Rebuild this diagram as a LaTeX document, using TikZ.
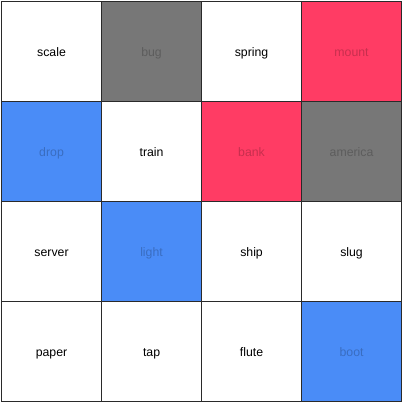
\documentclass[tikz,border=0pt]{standalone}
\usepackage{fontspec}
\setmainfont{Liberation Sans}
\definecolor{cblue}{HTML}{4A8CF7}
\definecolor{cred}{HTML}{FF3C64}
\definecolor{cgray}{HTML}{777777}
\definecolor{cline}{HTML}{2A2A2A}
\begin{document}
\begin{tikzpicture}[x=1pt,y=-1pt,
  cell/.style={draw=cline,line width=1.1pt,minimum size=100pt,inner sep=0pt,text height=10.5pt,text depth=1.5pt,font=\fontsize{12.3}{14}\selectfont,anchor=north west},
  plain/.style={cell,fill=white,text=black},
  blue/.style={cell,fill=cblue,text=black,text opacity=0.22},
  red/.style={cell,fill=cred,text=black,text opacity=0.22},
  grey/.style={cell,fill=cgray,text=black,text opacity=0.22}]
\useasboundingbox (0,0) rectangle (402,402);
\node[plain] (scale) at (1,1) {scale};
\node[grey] (bug) at (101,1) {bug};
\node[plain] (spring) at (201,1) {spring};
\node[red] (mount) at (301,1) {mount};
\node[blue] (drop) at (1,101) {drop};
\node[plain] (train) at (101,101) {train};
\node[red] (bank) at (201,101) {bank};
\node[grey] (america) at (301,101) {america};
\node[plain] (server) at (1,201) {server};
\node[blue] (light) at (101,201) {light};
\node[plain] (ship) at (201,201) {ship};
\node[plain] (slug) at (301,201) {slug};
\node[plain] (paper) at (1,301) {paper};
\node[plain] (tap) at (101,301) {tap};
\node[plain] (flute) at (201,301) {flute};
\node[blue] (boot) at (301,301) {boot};
\end{tikzpicture}
\end{document}
